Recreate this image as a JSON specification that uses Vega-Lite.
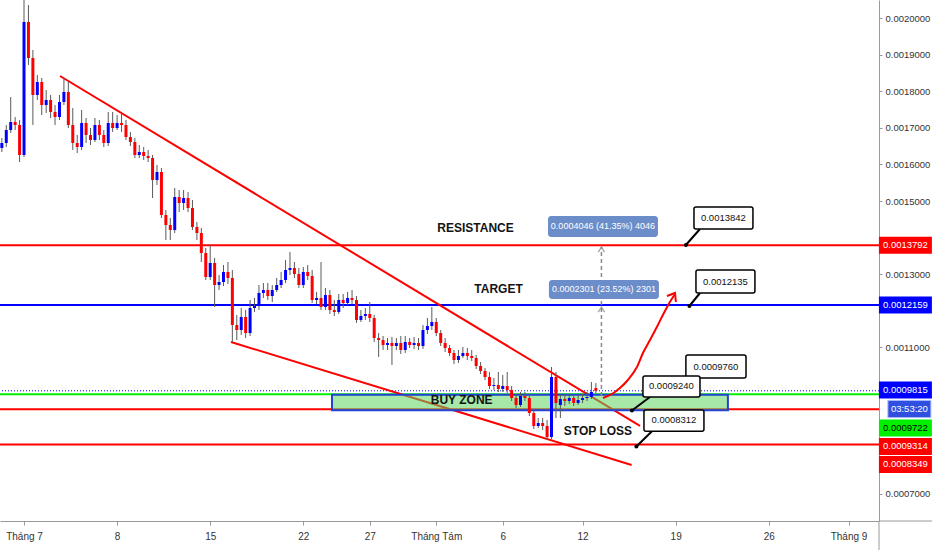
{
  "$schema": "https://vega.github.io/schema/vega-lite/v6.json",
  "width": 879,
  "height": 521,
  "autosize": "none",
  "padding": {"left": 0, "top": 0, "right": 53, "bottom": 29},
  "background": "#ffffff",
  "config": {
    "view": {"stroke": null},
    "font": "Liberation Sans",
    "axis": {"labelFont": "Liberation Sans"},
    "text": {"font": "Liberation Sans"}
  },
  "datasets": {
    "candles": [
      {"t": "2019-06-29T08:00", "o": 0.0016449, "h": 0.0016722, "l": 0.0016339, "c": 0.0016585},
      {"t": "2019-06-29T16:00", "o": 0.0016585, "h": 0.0017077, "l": 0.0016476, "c": 0.0016940},
      {"t": "2019-06-30T00:00", "o": 0.0016940, "h": 0.0017842, "l": 0.0016858, "c": 0.0017159},
      {"t": "2019-06-30T08:00", "o": 0.0017159, "h": 0.0017295, "l": 0.0016940, "c": 0.0017077},
      {"t": "2019-06-30T16:00", "o": 0.0017077, "h": 0.0017214, "l": 0.0016066, "c": 0.0016257},
      {"t": "2019-07-01T00:00", "o": 0.0016257, "h": 0.0020600, "l": 0.0016203, "c": 0.0019891},
      {"t": "2019-07-01T08:00", "o": 0.0019891, "h": 0.0020355, "l": 0.0018716, "c": 0.0018907},
      {"t": "2019-07-01T16:00", "o": 0.0018907, "h": 0.0019126, "l": 0.0017077, "c": 0.0017897},
      {"t": "2019-07-02T00:00", "o": 0.0017897, "h": 0.0018443, "l": 0.0017760, "c": 0.0018252},
      {"t": "2019-07-02T08:00", "o": 0.0018252, "h": 0.0018361, "l": 0.0017350, "c": 0.0017623},
      {"t": "2019-07-02T16:00", "o": 0.0017623, "h": 0.0018033, "l": 0.0017405, "c": 0.0017760},
      {"t": "2019-07-03T00:00", "o": 0.0017760, "h": 0.0017897, "l": 0.0017268, "c": 0.0017432},
      {"t": "2019-07-03T08:00", "o": 0.0017432, "h": 0.0017623, "l": 0.0017077, "c": 0.0017295},
      {"t": "2019-07-03T16:00", "o": 0.0017295, "h": 0.0017897, "l": 0.0017214, "c": 0.0017705},
      {"t": "2019-07-04T00:00", "o": 0.0017705, "h": 0.0018361, "l": 0.0017623, "c": 0.0017979},
      {"t": "2019-07-04T08:00", "o": 0.0017979, "h": 0.0018252, "l": 0.0016995, "c": 0.0017077},
      {"t": "2019-07-04T16:00", "o": 0.0017077, "h": 0.0017541, "l": 0.0016394, "c": 0.0016585},
      {"t": "2019-07-05T00:00", "o": 0.0016585, "h": 0.0016804, "l": 0.0016312, "c": 0.0016476},
      {"t": "2019-07-05T08:00", "o": 0.0016476, "h": 0.0017487, "l": 0.0016394, "c": 0.0017132},
      {"t": "2019-07-05T16:00", "o": 0.0017132, "h": 0.0017268, "l": 0.0016585, "c": 0.0016804},
      {"t": "2019-07-06T00:00", "o": 0.0016804, "h": 0.0016995, "l": 0.0016531, "c": 0.0016667},
      {"t": "2019-07-06T08:00", "o": 0.0016667, "h": 0.0017268, "l": 0.0016613, "c": 0.0017077},
      {"t": "2019-07-06T16:00", "o": 0.0017077, "h": 0.0017214, "l": 0.0016667, "c": 0.0016804},
      {"t": "2019-07-07T00:00", "o": 0.0016804, "h": 0.0016940, "l": 0.0016476, "c": 0.0016585},
      {"t": "2019-07-07T08:00", "o": 0.0016585, "h": 0.0017432, "l": 0.0016503, "c": 0.0017132},
      {"t": "2019-07-07T16:00", "o": 0.0017132, "h": 0.0017432, "l": 0.0016886, "c": 0.0016995},
      {"t": "2019-07-08T00:00", "o": 0.0016995, "h": 0.0017350, "l": 0.0016940, "c": 0.0017132},
      {"t": "2019-07-08T08:00", "o": 0.0017132, "h": 0.0017405, "l": 0.0016886, "c": 0.0017077},
      {"t": "2019-07-08T16:00", "o": 0.0017077, "h": 0.0017214, "l": 0.0016667, "c": 0.0016749},
      {"t": "2019-07-09T00:00", "o": 0.0016749, "h": 0.0016886, "l": 0.0016503, "c": 0.0016613},
      {"t": "2019-07-09T08:00", "o": 0.0016613, "h": 0.0016722, "l": 0.0016175, "c": 0.0016257},
      {"t": "2019-07-09T16:00", "o": 0.0016257, "h": 0.0016531, "l": 0.0016175, "c": 0.0016339},
      {"t": "2019-07-10T00:00", "o": 0.0016339, "h": 0.0016476, "l": 0.0016121, "c": 0.0016230},
      {"t": "2019-07-10T08:00", "o": 0.0016230, "h": 0.0016394, "l": 0.0016066, "c": 0.0016175},
      {"t": "2019-07-10T16:00", "o": 0.0016175, "h": 0.0016257, "l": 0.0015082, "c": 0.0015574},
      {"t": "2019-07-11T00:00", "o": 0.0015574, "h": 0.0015984, "l": 0.0015438, "c": 0.0015793},
      {"t": "2019-07-11T08:00", "o": 0.0015793, "h": 0.0015902, "l": 0.0014536, "c": 0.0014618},
      {"t": "2019-07-11T16:00", "o": 0.0014618, "h": 0.0014754, "l": 0.0013935, "c": 0.0014345},
      {"t": "2019-07-12T00:00", "o": 0.0014345, "h": 0.0014536, "l": 0.0013935, "c": 0.0014208},
      {"t": "2019-07-12T08:00", "o": 0.0014208, "h": 0.0015356, "l": 0.0014126, "c": 0.0015110},
      {"t": "2019-07-12T16:00", "o": 0.0015110, "h": 0.0015301, "l": 0.0014700, "c": 0.0014946},
      {"t": "2019-07-13T00:00", "o": 0.0014946, "h": 0.0015301, "l": 0.0014754, "c": 0.0015082},
      {"t": "2019-07-13T08:00", "o": 0.0015082, "h": 0.0015246, "l": 0.0014700, "c": 0.0014809},
      {"t": "2019-07-13T16:00", "o": 0.0014809, "h": 0.0015028, "l": 0.0014208, "c": 0.0014290},
      {"t": "2019-07-14T00:00", "o": 0.0014290, "h": 0.0014427, "l": 0.0013935, "c": 0.0014126},
      {"t": "2019-07-14T08:00", "o": 0.0014126, "h": 0.0014263, "l": 0.0013334, "c": 0.0013580},
      {"t": "2019-07-14T16:00", "o": 0.0013580, "h": 0.0013717, "l": 0.0012842, "c": 0.0012924},
      {"t": "2019-07-15T00:00", "o": 0.0012924, "h": 0.0013799, "l": 0.0012842, "c": 0.0013307},
      {"t": "2019-07-15T08:00", "o": 0.0013307, "h": 0.0013443, "l": 0.0012104, "c": 0.0012706},
      {"t": "2019-07-15T16:00", "o": 0.0012706, "h": 0.0012979, "l": 0.0012569, "c": 0.0012788},
      {"t": "2019-07-16T00:00", "o": 0.0012788, "h": 0.0013252, "l": 0.0012678, "c": 0.0013061},
      {"t": "2019-07-16T08:00", "o": 0.0013061, "h": 0.0013334, "l": 0.0012733, "c": 0.0012897},
      {"t": "2019-07-16T16:00", "o": 0.0012897, "h": 0.0013116, "l": 0.0011149, "c": 0.0011613},
      {"t": "2019-07-17T00:00", "o": 0.0011613, "h": 0.0011886, "l": 0.0011203, "c": 0.0011476},
      {"t": "2019-07-17T08:00", "o": 0.0011476, "h": 0.0012077, "l": 0.0011340, "c": 0.0011832},
      {"t": "2019-07-17T16:00", "o": 0.0011832, "h": 0.0012023, "l": 0.0011258, "c": 0.0011394},
      {"t": "2019-07-18T00:00", "o": 0.0011394, "h": 0.0012296, "l": 0.0011312, "c": 0.0012077},
      {"t": "2019-07-18T08:00", "o": 0.0012077, "h": 0.0012350, "l": 0.0011968, "c": 0.0012132},
      {"t": "2019-07-18T16:00", "o": 0.0012132, "h": 0.0012706, "l": 0.0012023, "c": 0.0012487},
      {"t": "2019-07-19T00:00", "o": 0.0012487, "h": 0.0012760, "l": 0.0012350, "c": 0.0012569},
      {"t": "2019-07-19T08:00", "o": 0.0012569, "h": 0.0012760, "l": 0.0012296, "c": 0.0012405},
      {"t": "2019-07-19T16:00", "o": 0.0012405, "h": 0.0012706, "l": 0.0012241, "c": 0.0012569},
      {"t": "2019-07-20T00:00", "o": 0.0012569, "h": 0.0012897, "l": 0.0012514, "c": 0.0012706},
      {"t": "2019-07-20T08:00", "o": 0.0012706, "h": 0.0013061, "l": 0.0012624, "c": 0.0012842},
      {"t": "2019-07-20T16:00", "o": 0.0012842, "h": 0.0013389, "l": 0.0012760, "c": 0.0013116},
      {"t": "2019-07-21T00:00", "o": 0.0013116, "h": 0.0013607, "l": 0.0012979, "c": 0.0013170},
      {"t": "2019-07-21T08:00", "o": 0.0013170, "h": 0.0013334, "l": 0.0012897, "c": 0.0013006},
      {"t": "2019-07-21T16:00", "o": 0.0013006, "h": 0.0013170, "l": 0.0012624, "c": 0.0012706},
      {"t": "2019-07-22T00:00", "o": 0.0012706, "h": 0.0013198, "l": 0.0012624, "c": 0.0013061},
      {"t": "2019-07-22T08:00", "o": 0.0013061, "h": 0.0013252, "l": 0.0012842, "c": 0.0012952},
      {"t": "2019-07-22T16:00", "o": 0.0012952, "h": 0.0013116, "l": 0.0012214, "c": 0.0012296},
      {"t": "2019-07-23T00:00", "o": 0.0012296, "h": 0.0012514, "l": 0.0012186, "c": 0.0012350},
      {"t": "2019-07-23T08:00", "o": 0.0012350, "h": 0.0013334, "l": 0.0012023, "c": 0.0012104},
      {"t": "2019-07-23T16:00", "o": 0.0012104, "h": 0.0012624, "l": 0.0012023, "c": 0.0012432},
      {"t": "2019-07-24T00:00", "o": 0.0012432, "h": 0.0012569, "l": 0.0011914, "c": 0.0012023},
      {"t": "2019-07-24T08:00", "o": 0.0012023, "h": 0.0012296, "l": 0.0011859, "c": 0.0011968},
      {"t": "2019-07-24T16:00", "o": 0.0011968, "h": 0.0012460, "l": 0.0011914, "c": 0.0012296},
      {"t": "2019-07-25T00:00", "o": 0.0012296, "h": 0.0012460, "l": 0.0012077, "c": 0.0012214},
      {"t": "2019-07-25T08:00", "o": 0.0012214, "h": 0.0012514, "l": 0.0012159, "c": 0.0012350},
      {"t": "2019-07-25T16:00", "o": 0.0012350, "h": 0.0012569, "l": 0.0012186, "c": 0.0012296},
      {"t": "2019-07-26T00:00", "o": 0.0012296, "h": 0.0012405, "l": 0.0011668, "c": 0.0011750},
      {"t": "2019-07-26T08:00", "o": 0.0011750, "h": 0.0012023, "l": 0.0011695, "c": 0.0011859},
      {"t": "2019-07-26T16:00", "o": 0.0011859, "h": 0.0012077, "l": 0.0011750, "c": 0.0011914},
      {"t": "2019-07-27T00:00", "o": 0.0011914, "h": 0.0012241, "l": 0.0011695, "c": 0.0011804},
      {"t": "2019-07-27T08:00", "o": 0.0011804, "h": 0.0011886, "l": 0.0011149, "c": 0.0011258},
      {"t": "2019-07-27T16:00", "o": 0.0011258, "h": 0.0011394, "l": 0.0010739, "c": 0.0011203},
      {"t": "2019-07-28T00:00", "o": 0.0011203, "h": 0.0011312, "l": 0.0010930, "c": 0.0011067},
      {"t": "2019-07-28T08:00", "o": 0.0011067, "h": 0.0011258, "l": 0.0010930, "c": 0.0011121},
      {"t": "2019-07-28T16:00", "o": 0.0011121, "h": 0.0011285, "l": 0.0010520, "c": 0.0011039},
      {"t": "2019-07-29T00:00", "o": 0.0011039, "h": 0.0011258, "l": 0.0010930, "c": 0.0011121},
      {"t": "2019-07-29T08:00", "o": 0.0011121, "h": 0.0011312, "l": 0.0010821, "c": 0.0010930},
      {"t": "2019-07-29T16:00", "o": 0.0010930, "h": 0.0011312, "l": 0.0010848, "c": 0.0011149},
      {"t": "2019-07-30T00:00", "o": 0.0011149, "h": 0.0011258, "l": 0.0010985, "c": 0.0011067},
      {"t": "2019-07-30T08:00", "o": 0.0011067, "h": 0.0011285, "l": 0.0010957, "c": 0.0011121},
      {"t": "2019-07-30T16:00", "o": 0.0011121, "h": 0.0011258, "l": 0.0010930, "c": 0.0011039},
      {"t": "2019-07-31T00:00", "o": 0.0011039, "h": 0.0011613, "l": 0.0010957, "c": 0.0011476},
      {"t": "2019-07-31T08:00", "o": 0.0011476, "h": 0.0011804, "l": 0.0011367, "c": 0.0011586},
      {"t": "2019-07-31T16:00", "o": 0.0011586, "h": 0.0012104, "l": 0.0011476, "c": 0.0011695},
      {"t": "2019-08-01T00:00", "o": 0.0011695, "h": 0.0011804, "l": 0.0011312, "c": 0.0011394},
      {"t": "2019-08-01T08:00", "o": 0.0011394, "h": 0.0011476, "l": 0.0011039, "c": 0.0011121},
      {"t": "2019-08-01T16:00", "o": 0.0011121, "h": 0.0011258, "l": 0.0010875, "c": 0.0010985},
      {"t": "2019-08-02T00:00", "o": 0.0010985, "h": 0.0011067, "l": 0.0010766, "c": 0.0010848},
      {"t": "2019-08-02T08:00", "o": 0.0010848, "h": 0.0010930, "l": 0.0010547, "c": 0.0010657},
      {"t": "2019-08-02T16:00", "o": 0.0010657, "h": 0.0010930, "l": 0.0010575, "c": 0.0010766},
      {"t": "2019-08-03T00:00", "o": 0.0010766, "h": 0.0011012, "l": 0.0010711, "c": 0.0010848},
      {"t": "2019-08-03T08:00", "o": 0.0010848, "h": 0.0010985, "l": 0.0010657, "c": 0.0010766},
      {"t": "2019-08-03T16:00", "o": 0.0010766, "h": 0.0010930, "l": 0.0010629, "c": 0.0010711},
      {"t": "2019-08-04T00:00", "o": 0.0010711, "h": 0.0010793, "l": 0.0010411, "c": 0.0010493},
      {"t": "2019-08-04T08:00", "o": 0.0010493, "h": 0.0010602, "l": 0.0010274, "c": 0.0010356},
      {"t": "2019-08-04T16:00", "o": 0.0010356, "h": 0.0010438, "l": 0.0010110, "c": 0.0010192},
      {"t": "2019-08-05T00:00", "o": 0.0010192, "h": 0.0010329, "l": 0.0009864, "c": 0.0009946},
      {"t": "2019-08-05T08:00", "o": 0.0009946, "h": 0.0010165, "l": 0.0009837, "c": 0.0009974},
      {"t": "2019-08-05T16:00", "o": 0.0009974, "h": 0.0010329, "l": 0.0009782, "c": 0.0009864},
      {"t": "2019-08-06T00:00", "o": 0.0009864, "h": 0.0010247, "l": 0.0009782, "c": 0.0009946},
      {"t": "2019-08-06T08:00", "o": 0.0009946, "h": 0.0010329, "l": 0.0009755, "c": 0.0009837},
      {"t": "2019-08-06T16:00", "o": 0.0009837, "h": 0.0009946, "l": 0.0009537, "c": 0.0009619},
      {"t": "2019-08-07T00:00", "o": 0.0009619, "h": 0.0009728, "l": 0.0009345, "c": 0.0009427},
      {"t": "2019-08-07T08:00", "o": 0.0009427, "h": 0.0009782, "l": 0.0009373, "c": 0.0009673},
      {"t": "2019-08-07T16:00", "o": 0.0009673, "h": 0.0009782, "l": 0.0009537, "c": 0.0009619},
      {"t": "2019-08-08T00:00", "o": 0.0009619, "h": 0.0009728, "l": 0.0009127, "c": 0.0009209},
      {"t": "2019-08-08T08:00", "o": 0.0009209, "h": 0.0009291, "l": 0.0008772, "c": 0.0008854},
      {"t": "2019-08-08T16:00", "o": 0.0008854, "h": 0.0009072, "l": 0.0008799, "c": 0.0008936},
      {"t": "2019-08-09T00:00", "o": 0.0008936, "h": 0.0009072, "l": 0.0008744, "c": 0.0008854},
      {"t": "2019-08-09T08:00", "o": 0.0008854, "h": 0.0009018, "l": 0.0008471, "c": 0.0008553},
      {"t": "2019-08-09T16:00", "o": 0.0008553, "h": 0.0010466, "l": 0.0008498, "c": 0.0010192},
      {"t": "2019-08-10T00:00", "o": 0.0010192, "h": 0.0010329, "l": 0.0009072, "c": 0.0009482},
      {"t": "2019-08-10T08:00", "o": 0.0009427, "h": 0.0009701, "l": 0.0009072, "c": 0.0009591},
      {"t": "2019-08-10T16:00", "o": 0.0009591, "h": 0.0009728, "l": 0.0009400, "c": 0.0009537},
      {"t": "2019-08-11T00:00", "o": 0.0009537, "h": 0.0009728, "l": 0.0009455, "c": 0.0009619},
      {"t": "2019-08-11T08:00", "o": 0.0009619, "h": 0.0009673, "l": 0.0009400, "c": 0.0009482},
      {"t": "2019-08-11T16:00", "o": 0.0009482, "h": 0.0009701, "l": 0.0009427, "c": 0.0009564},
      {"t": "2019-08-12T00:00", "o": 0.0009564, "h": 0.0009728, "l": 0.0009482, "c": 0.0009619},
      {"t": "2019-08-12T08:00", "o": 0.0009619, "h": 0.0009782, "l": 0.0009537, "c": 0.0009646},
      {"t": "2019-08-12T16:00", "o": 0.0009646, "h": 0.0010055, "l": 0.0009591, "c": 0.0009782},
      {"t": "2019-08-13T00:00", "o": 0.0009892, "h": 0.0010028, "l": 0.0009755, "c": 0.0009815}
    ],
    "levels": [
      {"kind": "resistance", "price": 0.0013792, "pos": 0.0013792, "label": "0.0013792"},
      {"kind": "target", "price": 0.0012159, "pos": 0.0012159, "label": "0.0012159"},
      {"kind": "last", "price": 0.0009815, "pos": 0.0009837, "label": "0.0009815"},
      {"kind": "bid", "price": 0.0009722, "pos": 0.0008799, "label": "0.0009722"},
      {"kind": "support", "price": 0.0009314, "pos": 0.0008294, "label": "0.0009314"},
      {"kind": "stop", "price": 0.0008349, "pos": 0.0007802, "label": "0.0008349"}
    ],
    "callouts": [
      {"label": "0.0013842", "t0": "2019-08-20T09:05", "t1": "2019-08-24T19:30", "p0": 0.0014837, "p1": 0.0014236, "tc": "2019-08-22T14:10", "pc": 0.0014536},
      {"label": "0.0012135", "t0": "2019-08-20T12:40", "t1": "2019-08-24T23:05", "p0": 0.0013116, "p1": 0.0012487, "tc": "2019-08-22T17:50", "pc": 0.0012801},
      {"label": "0.0009760", "t0": "2019-08-19T18:30", "t1": "2019-08-24T07:00", "p0": 0.0010793, "p1": 0.0010165, "tc": "2019-08-22T00:45", "pc": 0.0010479},
      {"label": "0.0009240", "t0": "2019-08-16T13:00", "t1": "2019-08-20T19:55", "p0": 0.0010220, "p1": 0.0009646, "tc": "2019-08-18T16:20", "pc": 0.0009933},
      {"label": "0.0008312", "t0": "2019-08-16T14:50", "t1": "2019-08-21T03:05", "p0": 0.0009291, "p1": 0.0008709, "tc": "2019-08-18T20:55", "pc": 0.0009004}
    ],
    "tails": [
      {"id": 1, "pt": "box", "t": "2019-08-20T19:55", "p": 0.0014236},
      {"id": 1, "pt": "anchor", "t": "2019-08-19T18:30", "p": 0.0013799},
      {"id": 2, "pt": "box", "t": "2019-08-20T19:55", "p": 0.0012487},
      {"id": 2, "pt": "anchor", "t": "2019-08-20T00:55", "p": 0.0012132},
      {"id": 3, "pt": "box", "t": "2019-08-20T05:30", "p": 0.0010165},
      {"id": 3, "pt": "anchor", "t": "2019-08-19T11:20", "p": 0.0009755},
      {"id": 4, "pt": "box", "t": "2019-08-17T01:40", "p": 0.0009646},
      {"id": 4, "pt": "anchor", "t": "2019-08-15T17:05", "p": 0.0009277},
      {"id": 5, "pt": "box", "t": "2019-08-17T05:15", "p": 0.0008709},
      {"id": 5, "pt": "anchor", "t": "2019-08-16T01:10", "p": 0.0008294}
    ],
    "measures": [
      {"label": "0.0004046 (41.35%) 4046", "t0": "2019-08-09T09:40", "t1": "2019-08-17T16:05", "p0": 0.0014591, "p1": 0.0014017, "tc": "2019-08-13T12:45", "pc": 0.0014304},
      {"label": "0.0002301 (23.52%) 2301", "t0": "2019-08-09T11:20", "t1": "2019-08-17T17:50", "p0": 0.0012842, "p1": 0.0012323, "tc": "2019-08-13T14:40", "pc": 0.0012583}
    ]
  },
  "layer": [
    {
      "data": {"name": "levels"},
      "mark": {"type": "rule"},
      "encoding": {
        "y": {
          "field": "price", "type": "quantitative", "title": null,
          "scale": {"domain": [0.0006258, 0.0020492], "nice": false, "zero": false, "padding": 0},
          "axis": {
            "orient": "right",
            "values": [0.0007, 0.0011, 0.0013, 0.0015, 0.0016, 0.0017, 0.0018, 0.0019, 0.002],
            "format": ".7f", "title": null, "grid": false,
            "tickSize": 3, "labelPadding": 3, "labelFontSize": 9.5,
            "labelColor": "#333333", "tickColor": "#9a9a9a", "domainColor": "#9a9a9a",
            "labelOverlap": false, "labelFlush": false
          }
        },
        "color": {
          "field": "kind", "type": "nominal", "legend": null,
          "scale": {
            "domain": ["resistance", "target", "last", "bid", "support", "stop"],
            "range": ["#ff0000", "#0000ff", "#0000ff", "#00f000", "#ff0000", "#ff0000"]
          }
        },
        "strokeWidth": {"condition": {"test": "datum.kind == 'last'", "value": 1}, "value": 2},
        "strokeDash": {"condition": {"test": "datum.kind == 'last'", "value": [1, 2]}, "value": [1, 0]}
      }
    },
    {
      "data": {"values": [
        {"id": "upper", "t": "2019-07-03T17:00", "p": 0.0018416},
        {"id": "upper", "t": "2019-08-16T07:40", "p": 0.0008854},
        {"id": "lower", "t": "2019-07-16T13:26", "p": 0.0011149},
        {"id": "lower", "t": "2019-08-15T16:34", "p": 0.0007788}
      ]},
      "mark": {"type": "line", "color": "#ff0000", "strokeWidth": 2},
      "encoding": {
        "x": {"field": "t", "type": "temporal", "title": null},
        "y": {"field": "p", "type": "quantitative", "title": null},
        "detail": {"field": "id"}
      }
    },
    {
      "data": {"values": [{"t0": "2019-07-24T03:50", "t1": "2019-08-22T22:20", "p0": 0.0009705, "p1": 0.0009285}]},
      "mark": {"type": "rect", "fill": "#5fd35f", "fillOpacity": 0.55, "stroke": "#2343d6", "strokeWidth": 2},
      "encoding": {
        "x": {"field": "t0", "type": "temporal", "title": null},
        "x2": {"field": "t1"},
        "y": {"field": "p0", "type": "quantitative", "title": null},
        "y2": {"field": "p1"}
      }
    },
    {
      "data": {"name": "candles"},
      "mark": {"type": "rule", "color": "#5a5a5a", "strokeWidth": 1, "clip": true},
      "encoding": {
        "x": {
          "field": "t", "type": "temporal", "title": null,
          "scale": {"domain": [{"year": 2019, "month": 6, "date": 29, "hours": 4, "minutes": 40}, {"year": 2019, "month": 9, "date": 3, "hours": 7}], "nice": false, "padding": 0},
          "axis": {
            "values": [
              {"year": 2019, "month": 7, "date": 1}, {"year": 2019, "month": 7, "date": 8},
              {"year": 2019, "month": 7, "date": 15}, {"year": 2019, "month": 7, "date": 22},
              {"year": 2019, "month": 7, "date": 27}, {"year": 2019, "month": 8, "date": 1},
              {"year": 2019, "month": 8, "date": 6}, {"year": 2019, "month": 8, "date": 12},
              {"year": 2019, "month": 8, "date": 19}, {"year": 2019, "month": 8, "date": 26},
              {"year": 2019, "month": 9, "date": 1}
            ],
            "labelExpr": "date(datum.value) == 1 ? (month(datum.value) == 6 ? 'Tháng 7' : (month(datum.value) == 7 ? 'Tháng Tám' : 'Tháng 9')) : '' + date(datum.value)",
            "title": null, "grid": false, "tickSize": 4, "labelPadding": 6, "labelFontSize": 10,
            "labelAlign": "center", "labelBound": false,
            "labelColor": "#333333", "tickColor": "#9a9a9a", "domainColor": "#9a9a9a",
            "labelOverlap": false, "labelFlush": false
          }
        },
        "y": {"field": "l", "type": "quantitative", "title": null},
        "y2": {"field": "h"}
      }
    },
    {
      "data": {"name": "candles"},
      "mark": {"type": "bar", "clip": true},
      "encoding": {
        "x": {"field": "t", "type": "temporal", "title": null},
        "y": {"field": "o", "type": "quantitative", "title": null},
        "y2": {"field": "c"},
        "size": {"value": 3},
        "color": {"condition": {"test": "datum.c >= datum.o", "value": "#0000ff"}, "value": "#ff0000"}
      }
    },
    {
      "data": {"values": [{"t": "2019-08-13T10:05", "p0": 0.0009673, "p1": 0.0013744}]},
      "mark": {"type": "rule", "color": "#8a8a8a", "strokeWidth": 1.5, "strokeDash": [4, 3]},
      "encoding": {
        "x": {"field": "t", "type": "temporal", "title": null},
        "y": {"field": "p0", "type": "quantitative", "title": null},
        "y2": {"field": "p1"}
      }
    },
    {
      "data": {"values": [{"t": "2019-08-13T10:05", "p": 0.0013744}, {"t": "2019-08-13T10:05", "p": 0.0012104}]},
      "mark": {"type": "point", "shape": "M-1,1L0,-0.6L1,1", "filled": false, "color": "#8a8a8a", "strokeWidth": 1.5, "size": 40, "yOffset": 2},
      "encoding": {
        "x": {"field": "t", "type": "temporal", "title": null},
        "y": {"field": "p", "type": "quantitative", "title": null}
      }
    },
    {
      "data": {"name": "measures"},
      "mark": {"type": "rect", "fill": "#6b8dca", "cornerRadius": 3},
      "encoding": {
        "x": {"field": "t0", "type": "temporal", "title": null},
        "x2": {"field": "t1"},
        "y": {"field": "p0", "type": "quantitative", "title": null},
        "y2": {"field": "p1"}
      }
    },
    {
      "data": {"name": "measures"},
      "mark": {"type": "text", "color": "#ffffff", "fontSize": 9, "align": "center", "baseline": "middle"},
      "encoding": {
        "x": {"field": "tc", "type": "temporal", "title": null},
        "y": {"field": "pc", "type": "quantitative", "title": null},
        "text": {"field": "label"}
      }
    },
    {
      "data": {"values": [
        {"t": "2019-08-13T12:45", "p": 0.0009619},
        {"t": "2019-08-14T05:00", "p": 0.0009728},
        {"t": "2019-08-14T19:30", "p": 0.0009892},
        {"t": "2019-08-15T09:50", "p": 0.0010110},
        {"t": "2019-08-16T02:10", "p": 0.0010466},
        {"t": "2019-08-16T13:00", "p": 0.0010848},
        {"t": "2019-08-17T01:40", "p": 0.0011203},
        {"t": "2019-08-17T14:10", "p": 0.0011558},
        {"t": "2019-08-18T02:50", "p": 0.0011941},
        {"t": "2019-08-18T13:40", "p": 0.0012241},
        {"t": "2019-08-18T22:50", "p": 0.0012460}
      ]},
      "mark": {"type": "line", "color": "#ff0000", "strokeWidth": 2, "interpolate": "monotone"},
      "encoding": {
        "x": {"field": "t", "type": "temporal", "title": null},
        "y": {"field": "p", "type": "quantitative", "title": null}
      }
    },
    {
      "data": {"values": [
        {"t": "2019-08-18T08:20", "p": 0.0012405},
        {"t": "2019-08-18T22:50", "p": 0.0012487},
        {"t": "2019-08-19T00:30", "p": 0.0012241}
      ]},
      "mark": {"type": "line", "color": "#ff0000", "strokeWidth": 2},
      "encoding": {
        "x": {"field": "t", "type": "temporal", "title": null},
        "y": {"field": "p", "type": "quantitative", "title": null}
      }
    },
    {
      "data": {"values": [
        {"text": "RESISTANCE", "t": "2019-08-03T22:50", "p": 0.0014263},
        {"text": "TARGET", "t": "2019-08-05T16:20", "p": 0.0012588},
        {"text": "BUY ZONE", "t": "2019-08-02T21:50", "p": 0.0009564},
        {"text": "STOP LOSS", "t": "2019-08-13T03:50", "p": 0.0008725}
      ]},
      "mark": {"type": "text", "fontSize": 12, "fontWeight": "bold", "color": "#131313", "align": "center", "baseline": "middle"},
      "encoding": {
        "x": {"field": "t", "type": "temporal", "title": null},
        "y": {"field": "p", "type": "quantitative", "title": null},
        "text": {"field": "text"}
      }
    },
    {
      "data": {"name": "tails"},
      "mark": {"type": "line", "color": "#000000", "strokeWidth": 2},
      "encoding": {
        "x": {"field": "t", "type": "temporal", "title": null},
        "y": {"field": "p", "type": "quantitative", "title": null},
        "detail": {"field": "id"}
      }
    },
    {
      "data": {"name": "tails"},
      "transform": [{"filter": "datum.pt == 'anchor'"}],
      "mark": {"type": "circle", "color": "#000000", "size": 16, "opacity": 1},
      "encoding": {
        "x": {"field": "t", "type": "temporal", "title": null},
        "y": {"field": "p", "type": "quantitative", "title": null}
      }
    },
    {
      "data": {"name": "callouts"},
      "mark": {"type": "rect", "fill": "#8c8c8c", "xOffset": 2, "yOffset": 2, "cornerRadius": 2},
      "encoding": {
        "x": {"field": "t0", "type": "temporal", "title": null},
        "x2": {"field": "t1"},
        "y": {"field": "p0", "type": "quantitative", "title": null},
        "y2": {"field": "p1"}
      }
    },
    {
      "data": {"name": "callouts"},
      "mark": {"type": "rect", "fill": "#ffffff", "stroke": "#000000", "strokeWidth": 1.5, "cornerRadius": 2},
      "encoding": {
        "x": {"field": "t0", "type": "temporal", "title": null},
        "x2": {"field": "t1"},
        "y": {"field": "p0", "type": "quantitative", "title": null},
        "y2": {"field": "p1"}
      }
    },
    {
      "data": {"name": "callouts"},
      "mark": {"type": "text", "color": "#111111", "fontSize": 9.5, "align": "center", "baseline": "middle"},
      "encoding": {
        "x": {"field": "tc", "type": "temporal", "title": null},
        "y": {"field": "pc", "type": "quantitative", "title": null},
        "text": {"field": "label"}
      }
    },
    {
      "data": {"values": [{}]},
      "mark": {"type": "rule", "color": "#9a9a9a", "strokeWidth": 1},
      "encoding": {
        "x": {"datum": {"year": 2019, "month": 9, "date": 3, "hours": 7}, "type": "temporal"},
        "y": {"datum": 0.0006258, "type": "quantitative"},
        "y2": {"datum": 0.0005466}
      }
    },
    {
      "data": {"values": [{}]},
      "mark": {"type": "rule", "color": "#9a9a9a", "strokeWidth": 1},
      "encoding": {
        "x": {"datum": {"year": 2019, "month": 9, "date": 3, "hours": 7}, "type": "temporal"},
        "x2": {"datum": {"year": 2019, "month": 9, "date": 7, "hours": 6, "minutes": 30}},
        "y": {"datum": 0.0006258, "type": "quantitative"}
      }
    },
    {
      "data": {"name": "levels"},
      "mark": {"type": "point", "shape": "M-1,-0.32H1V0.32H-1Z", "filled": true, "opacity": 1, "size": 2809},
      "encoding": {
        "x": {"datum": {"year": 2019, "month": 9, "date": 5, "hours": 6, "minutes": 40}, "type": "temporal"},
        "y": {"field": "pos", "type": "quantitative", "title": null},
        "color": {
          "field": "kind", "type": "nominal", "legend": null,
          "scale": {
            "domain": ["resistance", "target", "last", "bid", "support", "stop"],
            "range": ["#ff0000", "#0000ff", "#0000ff", "#00f000", "#ff0000", "#ff0000"]
          }
        }
      }
    },
    {
      "data": {"name": "levels"},
      "mark": {"type": "text", "fontSize": 9.5, "align": "center", "baseline": "middle"},
      "encoding": {
        "x": {"datum": {"year": 2019, "month": 9, "date": 5, "hours": 6, "minutes": 40}, "type": "temporal"},
        "y": {"field": "pos", "type": "quantitative", "title": null},
        "text": {"field": "label"},
        "color": {"condition": {"test": "datum.kind == 'bid'", "value": "#000000"}, "value": "#ffffff"}
      }
    },
    {
      "data": {"values": [{"label": "03:53:20", "pos": 0.0009318}]},
      "mark": {"type": "point", "shape": "M-1,-0.4H1V0.4H-1Z", "filled": true, "opacity": 1, "size": 1849, "fill": "#2f4fe0", "stroke": "#a9b8ff", "strokeWidth": 1},
      "encoding": {
        "x": {"datum": {"year": 2019, "month": 9, "date": 5, "hours": 13, "minutes": 50}, "type": "temporal"},
        "y": {"field": "pos", "type": "quantitative", "title": null}
      }
    },
    {
      "data": {"values": [{"label": "03:53:20", "pos": 0.0009318}]},
      "mark": {"type": "text", "fontSize": 9.5, "align": "center", "baseline": "middle", "color": "#ffffff"},
      "encoding": {
        "x": {"datum": {"year": 2019, "month": 9, "date": 5, "hours": 13, "minutes": 50}, "type": "temporal"},
        "y": {"field": "pos", "type": "quantitative", "title": null},
        "text": {"field": "label"}
      }
    }
  ]
}
